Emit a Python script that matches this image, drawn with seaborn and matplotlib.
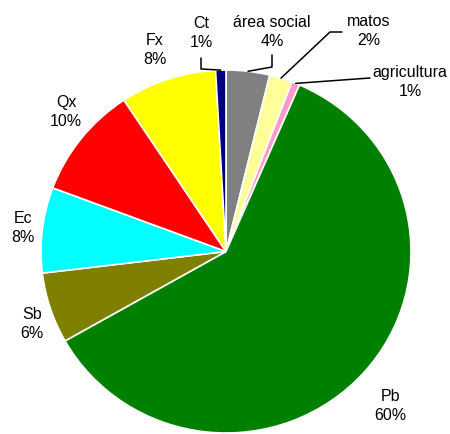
import numpy as np
import matplotlib
matplotlib.use("Agg")
import matplotlib.pyplot as plt
import seaborn as sns

# land use shares, clockwise from 12 o'clock
categories = ["área social", "matos", "agricultura", "Pb", "Sb", "Ec", "Qx", "Fx", "Ct"]
shares = [3.8, 2.0, 0.7, 60.3, 6.3, 7.6, 10.0, 8.4, 0.9]
colors = ["#808080", "#FFFF99", "#FF99CC", "#008000", "#808000",
          "#00FFFF", "#FF0000", "#FFFF00", "#000080"]

# label block centres (pixels, y up) and leader bends
label_pos = {
    "área social": (272, 402), "matos": (369, 403), "agricultura": (410, 352),
    "Pb": (390, 28), "Sb": (32, 110), "Ec": (23, 206), "Qx": (66, 322),
    "Fx": (155, 384), "Ct": (201, 401),
}
leaders = {
    "Ct": [(201, 376), (201, 365)],
    "área social": [(272, 379), (272, 367)],
    "matos": [(342, 402), (330, 402)],
    "agricultura": [(370, 356)],
}

sns.set_theme(style="white")
plt.rcParams["font.family"] = ["Liberation Sans", "DejaVu Sans"]

W, H = 450, 434
# the pie is slightly wider than tall, so squash y a bit
rx, ry = 185, 181.5
sy = rx / ry
cx, cy = 226, 182.5 * sy

fig = plt.figure(figsize=(W / 100, H / 100), dpi=100)
ax = fig.add_axes([0, 0, 1, 1])
wedges, _ = ax.pie(shares, colors=colors, startangle=90, counterclock=False,
                   center=(cx, cy), radius=rx,
                   wedgeprops=dict(edgecolor="white", linewidth=1.2))

for w, name, val in zip(wedges, categories, shares):
    x, y = label_pos[name]
    ax.text(x, y * sy, f"{name}\n{round(val)}%", ha="center", va="center",
            fontsize=11.5, linespacing=1.35, color="black")
    if name in leaders:
        mid = np.deg2rad((w.theta1 + w.theta2) / 2)
        edge = (cx + rx * np.cos(mid), cy + rx * np.sin(mid))
        pts = [(px, py * sy) for px, py in leaders[name]] + [edge]
        xs, ys = zip(*pts)
        ax.plot(xs, ys, color="black", lw=1.1)

ax.set_xlim(0, W)
ax.set_ylim(0, H * sy)
ax.set_aspect("auto")
ax.axis("off")

fig.savefig("out.png", dpi=100)
